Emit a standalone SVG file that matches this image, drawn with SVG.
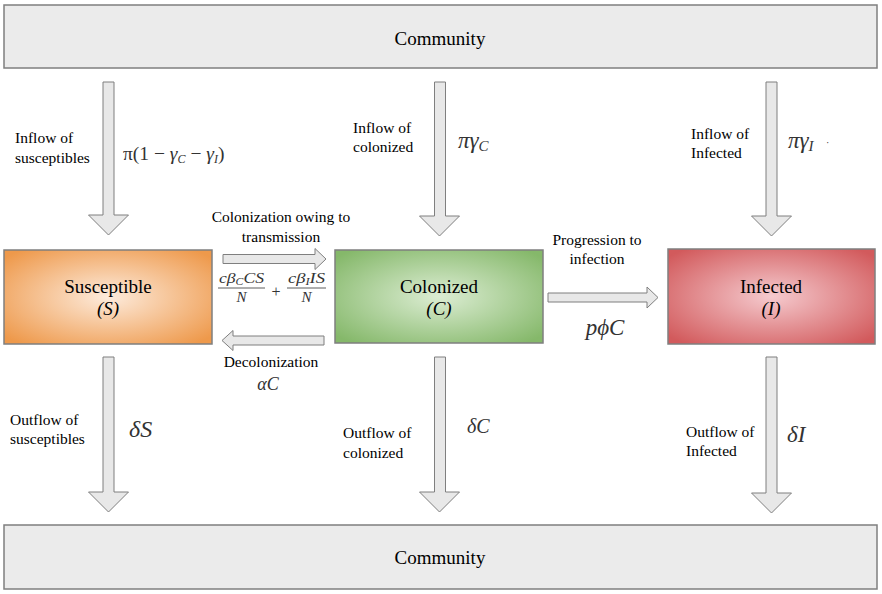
<svg xmlns="http://www.w3.org/2000/svg" width="882" height="594" viewBox="0 0 882 594" font-family="'Liberation Serif', 'DejaVu Serif', serif">
<defs>
<radialGradient id="gS" cx="50%" cy="50%" r="65%">
<stop offset="0" stop-color="#FDEBDC"/>
<stop offset="1" stop-color="#EE994B"/>
</radialGradient>
<radialGradient id="gC" cx="50%" cy="50%" r="65%">
<stop offset="0" stop-color="#DCEDD3"/>
<stop offset="1" stop-color="#85B86A"/>
</radialGradient>
<radialGradient id="gI" cx="50%" cy="50%" r="65%">
<stop offset="0" stop-color="#F5CACE"/>
<stop offset="1" stop-color="#D25A5C"/>
</radialGradient>
<style>
text{font-family:'Liberation Serif', 'DejaVu Serif', serif;}
.t{fill:#000;}
.lab{font-size:15.5px;}
.node{font-size:19px;}
.m{fill:#333;font-style:italic;}
.up{font-style:normal;}
.comm{fill:#EBEBEB;stroke:#7F7F7F;stroke-width:1.5;}
.box{stroke:#7F7F7F;stroke-width:1.5;}
.arr{fill:#E8E8E8;stroke:#7F7F7F;stroke-width:1;}
</style>
</defs>

<g id="community-top">
<rect class="comm" x="4" y="5" width="873" height="63"/>
<text class="t node" x="440" y="45" text-anchor="middle">Community</text>
</g>
<g id="community-bottom">
<rect class="comm" x="4" y="525" width="873" height="64"/>
<text class="t node" x="440" y="564" text-anchor="middle">Community</text>
</g>

<g id="susceptible">
<rect class="box" x="4" y="250" width="208" height="94" fill="url(#gS)"/>
<text class="t node" x="108" y="293" text-anchor="middle">Susceptible</text>
<text class="t node" x="108" y="315" text-anchor="middle" font-style="italic">(S)</text>
</g>
<g id="colonized">
<rect class="box" x="335" y="250" width="208" height="93" fill="url(#gC)"/>
<text class="t node" x="439" y="293" text-anchor="middle">Colonized</text>
<text class="t node" x="439" y="315" text-anchor="middle" font-style="italic">(C)</text>
</g>
<g id="infected">
<rect class="box" x="668" y="249" width="207" height="95" fill="url(#gI)"/>
<text class="t node" x="771" y="293" text-anchor="middle">Infected</text>
<text class="t node" x="771" y="315" text-anchor="middle" font-style="italic">(I)</text>
</g>

<g id="connectors">
<path class="arr" d="M103,82 H114 V215 H128.5 L108.5,235 L88.5,215 H103 Z"/>
<path class="arr" d="M434.5,82 H445.5 V216 H459.5 L439.5,236 L419.5,216 H434.5 Z"/>
<path class="arr" d="M766,82 H777 V216 H791.5 L771.5,236 L751.5,216 H766 Z"/>
<path class="arr" d="M103,357 H114 V492 H128.5 L108.5,512 L88.5,492 H103 Z"/>
<path class="arr" d="M434.5,357 H445.5 V492 H459.5 L439.5,512 L419.5,492 H434.5 Z"/>
<path class="arr" d="M766,357 H777 V493 H791.5 L771.5,513 L751.5,493 H766 Z"/>
<path class="arr" d="M223,254.5 H315 V248.5 L326,259 L315,269.5 V263.5 H223 Z"/>
<path class="arr" d="M324,336 H233 V330.5 L222,340.5 L233,350.5 V345 H324 Z"/>
<path class="arr" d="M548,293 H647 V287 L658,297.5 L647,308 V302 H548 Z"/>
</g>

<g id="labels">
<text class="t lab" x="15" y="143">Inflow of</text>
<text class="t lab" x="15" y="163">susceptibles</text>
<text class="m" x="123" y="160" font-size="19.5"><tspan class="up">π(1 − </tspan>γ<tspan font-size="12" dy="3">C</tspan><tspan class="up" dy="-3"> − </tspan>γ<tspan font-size="12" dy="3">I</tspan><tspan class="up" dy="-3">)</tspan></text>

<text class="t lab" x="353" y="133">Inflow of</text>
<text class="t lab" x="353" y="152">colonized</text>
<text class="m" x="458" y="148" font-size="23">πγ<tspan font-size="15" dy="3">C</tspan></text>

<text class="t lab" x="691" y="139">Inflow of</text>
<text class="t lab" x="691" y="158">Infected</text>
<text class="m" x="788" y="148" font-size="23">πγ<tspan font-size="15" dy="3">I</tspan></text>
<text class="m up" x="826" y="146" font-size="10">·</text>

<text class="t lab" x="281" y="222" text-anchor="middle">Colonization owing to</text>
<text class="t lab" x="281" y="242" text-anchor="middle">transmission</text>

<text class="m" x="219" y="283" font-size="15" textLength="45" lengthAdjust="spacingAndGlyphs">cβ<tspan font-size="10" dy="2">C</tspan><tspan dy="-2">CS</tspan></text>
<line x1="218" y1="288" x2="265" y2="288" stroke="#333" stroke-width="0.8"/>
<text class="m" x="241.5" y="302" font-size="15" text-anchor="middle">N</text>
<text class="m up" x="276" y="297" font-size="16" text-anchor="middle">+</text>
<text class="m" x="288" y="283" font-size="15" textLength="37" lengthAdjust="spacingAndGlyphs">cβ<tspan font-size="10" dy="2">I</tspan><tspan dy="-2">IS</tspan></text>
<line x1="287" y1="288" x2="326" y2="288" stroke="#333" stroke-width="0.8"/>
<text class="m" x="306.5" y="302" font-size="15" text-anchor="middle">N</text>

<text class="t lab" x="271" y="367" text-anchor="middle">Decolonization</text>
<text class="m" x="268" y="390" font-size="18" text-anchor="middle">αC</text>

<text class="t lab" x="597" y="245" text-anchor="middle">Progression to</text>
<text class="t lab" x="597" y="264" text-anchor="middle">infection</text>
<text class="m" x="605" y="335" font-size="23" text-anchor="middle">pϕC</text>

<text class="t lab" x="10" y="425">Outflow of</text>
<text class="t lab" x="10" y="444">susceptibles</text>
<text class="m" x="129" y="437" font-size="24">δS</text>

<text class="t lab" x="343" y="438">Outflow of</text>
<text class="t lab" x="343" y="458">colonized</text>
<text class="m" x="467" y="433" font-size="20">δC</text>

<text class="t lab" x="686" y="437">Outflow of</text>
<text class="t lab" x="686" y="456">Infected</text>
<text class="m" x="787" y="442" font-size="23">δI</text>
</g>
</svg>
